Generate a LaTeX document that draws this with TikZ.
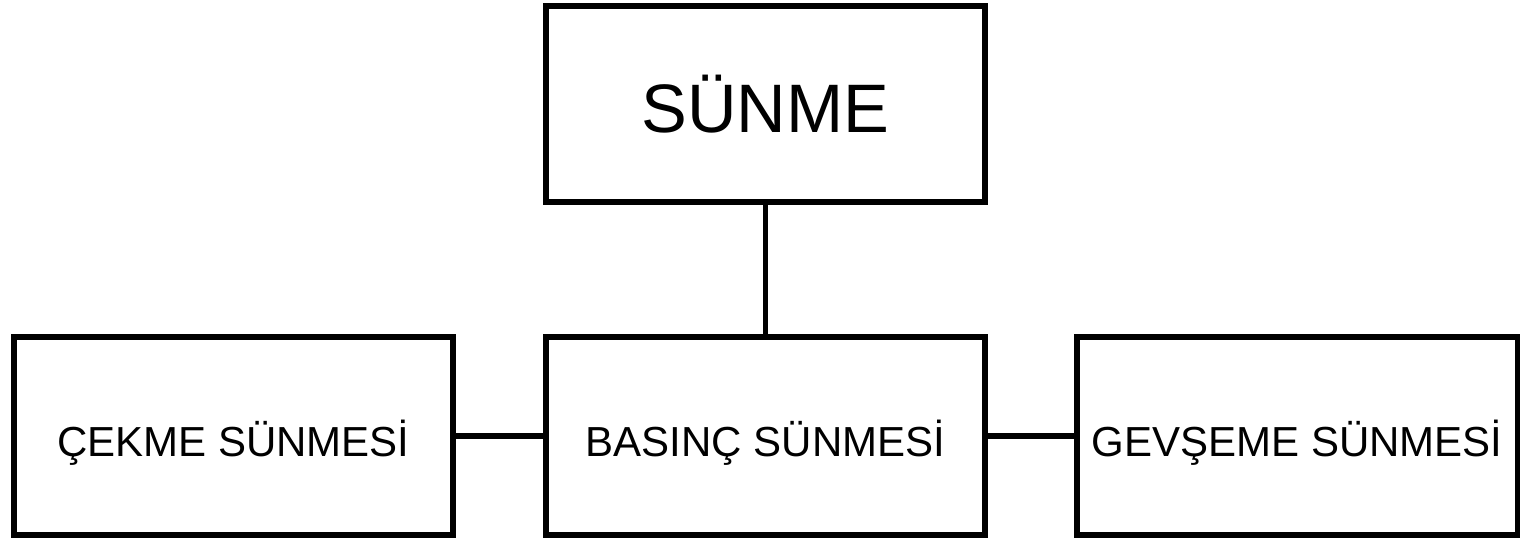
\documentclass[tikz,border=0pt]{standalone}
\usepackage{fontspec}
\setmainfont{Liberation Sans}
\begin{document}
\begin{tikzpicture}[x=0.5pt,y=-0.5pt,
  box/.style={draw=black, line width=2.8pt, fill=white, rectangle,
    inner sep=0pt, minimum height=99pt},
  bigtext/.style={font=\fontsize{34.3pt}{40pt}\selectfont,
    text height=28.6pt, text depth=0pt},
  smalltext/.style={font=\fontsize{21pt}{25pt}\selectfont,
    text height=20.5pt, text depth=0pt},
  link/.style={draw=black, line width=2.8pt}]
  \useasboundingbox (0,0) rectangle (1522,538);
  \fill[white] (0,0) rectangle (1522,538);

  % main concept
  \node[box, bigtext, minimum width=219.5pt, minimum height=98pt]
    (sunme) at (765.5,104) {SÜNME};

  % three kinds of creep
  \node[box, smalltext, minimum width=219.6pt] (cekme) at (233.4,435.7) {ÇEKME SÜNMESİ};
  \node[box, smalltext, minimum width=219.5pt] (basinc) at (765.5,435.7) {BASINÇ SÜNMESİ};
  \node[box, smalltext, minimum width=220.3pt] (gevseme) at (1297.3,435.7) {GEVŞEME SÜNMESİ};

  % connectors
  \draw[link] (sunme.south) -- (basinc.north);
  \draw[link] (cekme.east) -- (basinc.west);
  \draw[link] (basinc.east) -- (gevseme.west);
\end{tikzpicture}
\end{document}
